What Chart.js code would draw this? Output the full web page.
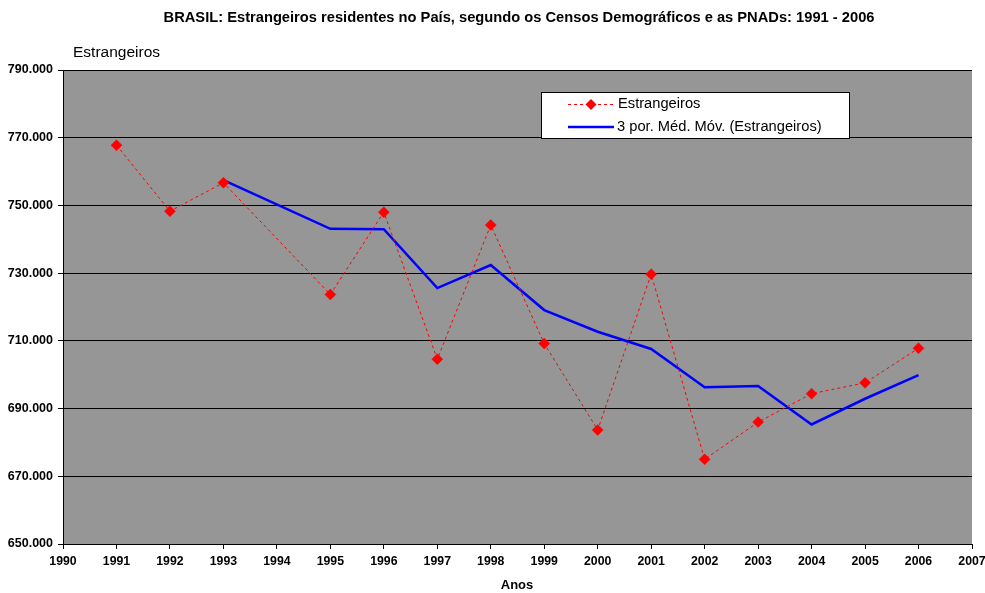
<!DOCTYPE html>
<html>
<head>
<meta charset="utf-8">
<script src="https://cdn.jsdelivr.net/npm/chart.js@4"></script>
<style>
    html, body { margin: 0; padding: 0; background: #ffffff; }
    #wrap { width: 985px; height: 593px; }
</style>
</head>
<body>
<div id="wrap"><canvas id="myChart" width="985" height="593"></canvas></div>
<script>
var anos = [1991, 1992, 1993, 1995, 1996, 1997, 1998, 1999, 2000, 2001, 2002, 2003, 2004, 2005, 2006];
var estrangeiros = [767800, 748300, 756700, 723700, 748000, 704600, 744200, 709200, 683700, 729700, 675000, 686000, 694400, 697600, 707800];

var anos_media = [1993, 1995, 1996, 1997, 1998, 1999, 2000, 2001, 2002, 2003, 2004, 2005, 2006];
var media_movel = [757500, 743100, 743000, 725600, 732400, 719100, 712700, 707600, 696300, 696700, 685300, 692900, 699900];

var titulo = "BRASIL: Estrangeiros residentes no País, segundo os Censos Demográficos e as PNADs: 1991 - 2006";
var legenda = ["Estrangeiros", "3 por. Méd. Móv. (Estrangeiros)"];

var fonte = '"Liberation Sans", Arial, sans-serif';

function pontos(xs, ys) {
    let out = [];
    for (let i = 0; i < xs.length; i++) {
        out.push({ x: xs[i], y: ys[i] });
    }
    return out;
}

// fundo cinza, textos e legenda desenhados à mão
var extras = {
    id: 'extras',
    beforeDraw: function (chart) {
        let c = chart.ctx;
        let a = chart.chartArea;
        c.save();
        c.fillStyle = '#969696';
        c.fillRect(a.left, a.top, a.right - a.left, a.bottom - a.top);
        c.restore();
    },
    afterDraw: function (chart) {
        let c = chart.ctx;
        c.save();
        c.fillStyle = '#000';
        c.textBaseline = 'middle';

        c.font = 'bold 14.7px ' + fonte;
        c.textAlign = 'center';
        c.fillText(titulo, 519, 18);

        c.font = '15.5px ' + fonte;
        c.textAlign = 'left';
        c.fillText("Estrangeiros", 73, 53);

        c.font = 'bold 13px ' + fonte;
        c.textAlign = 'center';
        c.fillText("Anos", 517, 585);

        // legenda
        c.fillStyle = '#fff';
        c.fillRect(541.5, 92.5, 308, 46);
        c.strokeStyle = '#000';
        c.lineWidth = 1;
        c.strokeRect(541.5, 92.5, 308, 46);

        c.strokeStyle = 'rgb(255,0,0)';
        c.setLineDash([3, 3]);
        c.beginPath();
        c.moveTo(568, 104.5);
        c.lineTo(613, 104.5);
        c.stroke();
        c.setLineDash([]);
        c.fillStyle = 'rgb(255,0,0)';
        c.beginPath();
        c.moveTo(591, 99);
        c.lineTo(596.5, 104.5);
        c.lineTo(591, 110);
        c.lineTo(585.5, 104.5);
        c.closePath();
        c.fill();

        c.strokeStyle = '#0000ff';
        c.lineWidth = 2.5;
        c.beginPath();
        c.moveTo(568, 127);
        c.lineTo(614, 127);
        c.stroke();

        c.fillStyle = '#000';
        c.font = '14.7px ' + fonte;
        c.textAlign = 'left';
        c.fillText(legenda[0], 618, 104);
        c.fillText(legenda[1], 617, 127);
        c.restore();
    }
};

var ctx = document.getElementById('myChart').getContext('2d');

var myChart = new Chart(ctx, {
    type: 'line',
    data: {
        datasets: [{
            label: legenda[0],
            data: pontos(anos, estrangeiros),
            borderColor: 'rgb(255,0,0)',
            borderWidth: 1,
            borderDash: [3, 3],
            pointStyle: 'rectRot',
            pointRadius: 5.5,
            pointBorderWidth: 0.5,
            pointBackgroundColor: 'rgb(255,0,0)',
            pointBorderColor: 'rgb(255,0,0)',
            tension: 0,
            order: 1
        }, {
            label: legenda[1],
            data: pontos(anos_media, media_movel),
            borderColor: '#0000ff',
            borderWidth: 2.5,
            pointRadius: 0,
            tension: 0,
            order: 2
        }]
    },
    options: {
        responsive: false,
        animation: false,
        layout: { padding: { top: 70, right: 13, left: 0, bottom: 0 } },
        plugins: {
            legend: { display: false },
            title: { display: false },
            tooltip: { enabled: false }
        },
        scales: {
            x: {
                type: 'linear',
                min: 1990,
                max: 2007,
                afterFit: function (s) {
                    s.height = 49;
                    s.paddingRight = 13;
                    s.paddingLeft = 0;
                },
                ticks: {
                    stepSize: 1,
                    color: '#000',
                    padding: 5,
                    maxRotation: 0,
                    autoSkip: false,
                    font: { family: fonte, size: 12.3, weight: 'bold' },
                    callback: function (v) { return String(v); }
                },
                grid: {
                    drawOnChartArea: false,
                    drawTicks: true,
                    tickLength: 5,
                    tickColor: '#000'
                },
                border: { color: '#000', width: 1 }
            },
            y: {
                min: 650000,
                max: 790000,
                afterFit: function (s) { s.width = 63; },
                ticks: {
                    stepSize: 20000,
                    color: '#000',
                    padding: 5,
                    font: { family: fonte, size: 12.5, weight: 'bold' },
                    callback: function (v) { return (v / 1000) + '.000'; }
                },
                grid: {
                    color: '#000',
                    lineWidth: 1,
                    tickLength: 5,
                    tickColor: '#000'
                },
                border: { color: '#000', width: 1 }
            }
        }
    },
    plugins: [extras]
});
</script>
</body>
</html>
